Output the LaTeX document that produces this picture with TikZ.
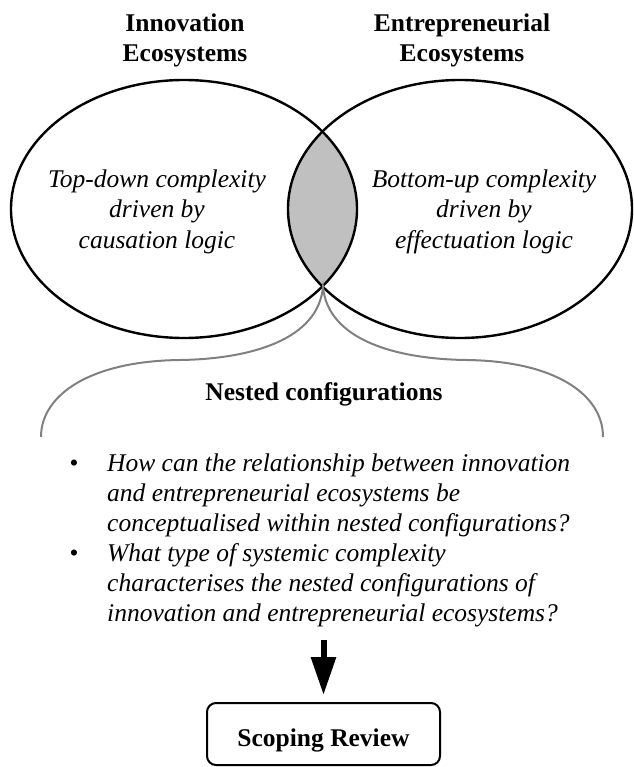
\documentclass[tikz,border=0pt]{standalone}
\usepackage{fontspec}
\setmainfont{Liberation Serif}
\usetikzlibrary{arrows.meta}
\newcommand{\fsz}{\fontsize{25.5pt}{30pt}\selectfont}
\definecolor{lensgray}{RGB}{192,192,192}
\definecolor{bracegray}{RGB}{128,128,128}
\begin{document}
\begin{tikzpicture}[x=1pt,y=-1pt,
  bt/.style={font=\fsz\bfseries, inner sep=0pt, anchor=base},
  itx/.style={font=\fsz\itshape, inner sep=0pt, anchor=base},
  itw/.style={font=\fsz\itshape, inner sep=0pt, anchor=base west},
  bul/.style={font=\fsz, inner sep=0pt, anchor=base},
  ell/.style={line width=2.4pt, draw=black},
  brace/.style={line width=2pt, draw=bracegray},
  bigarrow/.style={line width=6pt, -{Triangle[length=38pt,width=24pt]}, shorten >=7pt},
  boxst/.style={draw, line width=2pt, rounded corners=9pt, minimum width=233pt,
    minimum height=62pt, inner sep=0pt, text height=24pt, text depth=0pt,
    font=\fsz\bfseries}]
\useasboundingbox (0,0) rectangle (633,767);

% lens
\begin{scope}
  \clip (184,209) ellipse [x radius=173pt, y radius=129pt];
  \fill[lensgray] (460,209) ellipse [x radius=172pt, y radius=129pt];
\end{scope}
\draw[ell] (184,209) ellipse [x radius=173pt, y radius=129pt];
\draw[ell] (460,209) ellipse [x radius=172pt, y radius=129pt];

% titles
\node[bt] (t1a) at (185,32) {Innovation};
\node[bt] (t1b) at (185,62) {Ecosystems};
\node[bt] (t2a) at (462,32) {Entrepreneurial};
\node[bt] (t2b) at (462,62) {Ecosystems};

% ellipse texts
\node[itx] (l1) at (157,188) {Top-down complexity};
\node[itx] (l2) at (157,218) {driven by};
\node[itx] (l3) at (157,248) {causation logic};
\node[itx] (r1) at (484,188) {Bottom-up complexity};
\node[itx] (r2) at (484,218) {driven by};
\node[itx] (r3) at (484,248) {effectuation logic};

% brace
\coordinate (cusp) at (323,287);
\coordinate (bl) at (41,437);
\coordinate (br) at (603,437);
\draw[brace] (bl) .. controls (41,395) and (90,361) .. (180,360)
  .. controls (250,359) and (318,340) .. (cusp)
  .. controls (328,340) and (396,359) .. (466,360)
  .. controls (556,361) and (603,395) .. (br);

\node[bt] (nest) at (324,400) {Nested configurations};

% bullets
\node[bul] (b1) at (74,471) {•};
\node[itw] (q1a) at (107,471) {How can the relationship between innovation};
\node[itw] (q1b) at (107,501) {and entrepreneurial ecosystems be};
\node[itw] (q1c) at (107,531) {conceptualised within nested configurations?};
\node[bul] (b2) at (74,561) {•};
\node[itw] (q2a) at (107,561) {What type of systemic complexity};
\node[itw] (q2b) at (107,591) {characterises the nested configurations of};
\node[itw] (q2c) at (107,621) {innovation and entrepreneurial ecosystems?};

% box and arrow
\node[boxst] (box) at (323.5,734) {Scoping Review};
\coordinate (astart) at (323.5,640);
\draw[bigarrow] (astart) -- (box.north);
\end{tikzpicture}
\end{document}
